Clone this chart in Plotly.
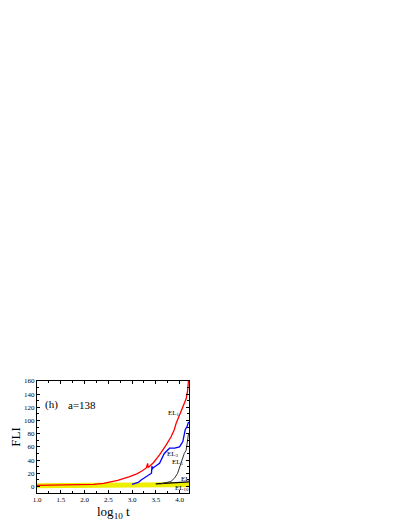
import plotly.graph_objects as go

# log10 t values and FLI values per curve
red_x = [1.0, 1.5, 2.0, 2.1, 2.2, 2.4, 2.53, 2.7, 2.95, 3.1, 3.2, 3.3, 3.33, 3.34, 3.36, 3.45, 3.58, 3.65, 3.72, 3.82, 3.89, 3.93, 4.03, 4.1, 4.14, 4.17, 4.19]
red_y = [1.5, 2.0, 2.5, 3.5, 3.0, 4.5, 6.0, 9.0, 15.0, 19.0, 23.0, 28.0, 35.0, 29.0, 30.0, 36.0, 48.0, 55.0, 63.0, 75.0, 86.0, 96.0, 113.0, 125.0, 133.0, 145.0, 161.0]

blue_x = [3.0, 3.13, 3.2, 3.3, 3.41, 3.42, 3.43, 3.44, 3.5, 3.58, 3.68, 3.75, 3.79, 3.9, 4.0, 4.07, 4.12, 4.16, 4.19]
blue_y = [3.0, 6.0, 10.0, 15.0, 20.0, 31.0, 26.0, 28.0, 31.0, 35.0, 50.0, 55.0, 58.0, 58.0, 60.0, 68.0, 86.0, 91.0, 98.0]

el5_x = [3.6, 3.75, 3.82, 3.9, 3.96, 4.03, 4.1, 4.14, 4.17, 4.19]
el5_y = [4.0, 6.0, 7.5, 13.0, 20.0, 35.0, 50.0, 55.0, 75.0, 80.0]

el7_x = [3.5, 3.7, 3.8, 3.9, 4.0, 4.1, 4.2]
el7_y = [4.0, 5.0, 6.0, 6.5, 6.5, 7.0, 7.0]

el10_x = [1.0, 1.5, 2.0, 2.5, 3.0, 3.5, 4.0, 4.2]
el10_y = [1.5, 2.0, 2.2, 2.5, 2.8, 3.0, 3.2, 3.3]

yel_x = [1.0, 1.25, 1.5, 1.75, 2.0, 2.25, 2.5, 2.75, 3.0, 3.25, 3.5, 3.75, 4.0, 4.2]
yel_y = [1.0, 1.3, 1.5, 1.7, 1.9, 2.0, 2.1, 2.2, 2.3, 2.3, 2.4, 2.4, 2.5, 2.5]

x_ticks = [1.0, 1.5, 2.0, 2.5, 3.0, 3.5, 4.0]
x_tick_text = ["1.0", "1.5", "2.0", "2.5", "3.0", "3.5", "4.0"]
y_ticks = [0, 20, 40, 60, 80, 100, 120, 140, 160]

FONT = "Liberation Serif, Times New Roman, serif"

fig = go.Figure()
fig.add_trace(go.Scatter(x=el10_x, y=el10_y, mode="lines", line=dict(color="black", width=1)))
fig.add_trace(go.Scatter(x=yel_x, y=yel_y, mode="lines", line=dict(color="#eeee00", width=5)))
fig.add_trace(go.Scatter(x=el7_x, y=el7_y, mode="lines", line=dict(color="black", width=1.2)))
fig.add_trace(go.Scatter(x=el5_x, y=el5_y, mode="lines", line=dict(color="#333333", width=1)))
fig.add_trace(go.Scatter(x=blue_x, y=blue_y, mode="lines", line=dict(color="blue", width=1.3)))
fig.add_trace(go.Scatter(x=red_x, y=red_y, mode="lines", line=dict(color="red", width=1.3)))

axis_common = dict(
    showline=True, linecolor="black", linewidth=1, mirror="ticks",
    ticks="inside", ticklen=3, tickcolor="black", showgrid=False, zeroline=False,
    tickfont=dict(family=FONT, size=7, color="black"),
)
fig.update_xaxes(range=[1.0, 4.2], tickvals=x_ticks, ticktext=x_tick_text,
                 minor=dict(ticks="inside", ticklen=2, dtick=0.25, tickcolor="black"),
                 **axis_common)
fig.update_yaxes(range=[-10, 160], tickvals=y_ticks,
                 minor=dict(ticks="inside", ticklen=2, dtick=10, tickcolor="black"),
                 title=dict(text="FLI", font=dict(family=FONT, size=13, color="black"), standoff=3),
                 **axis_common)

fig.add_annotation(xref="paper", yref="paper", x=0.5, y=-0.175, yanchor="middle",
                   text="log<sub>10</sub> t", showarrow=False,
                   font=dict(family=FONT, size=13, color="black"))

annos = [
    dict(x=1.3, y=124, text="(h)", size=11),
    dict(x=1.95, y=124, text="a=138", size=11),
    dict(x=3.88, y=112, text="EL<sub>1</sub>", size=7),
    dict(x=3.86, y=49, text="EL<sub>3</sub>", size=7),
    dict(x=3.97, y=37, text="EL<sub>5</sub>", size=7),
    dict(x=4.12, y=12, text="EL", size=7),
    dict(x=4.06, y=-3, text="EL<sub>10</sub>", size=7),
]
for a in annos:
    fig.add_annotation(x=a["x"], y=a["y"], text=a["text"], showarrow=False,
                       font=dict(family=FONT, size=a["size"], color="black"))

fig.update_layout(
    width=400, height=520, showlegend=False,
    paper_bgcolor="white", plot_bgcolor="white",
    margin=dict(l=29, r=219, t=373, b=35, autoexpand=False),
)
fig.write_html("out.html")
